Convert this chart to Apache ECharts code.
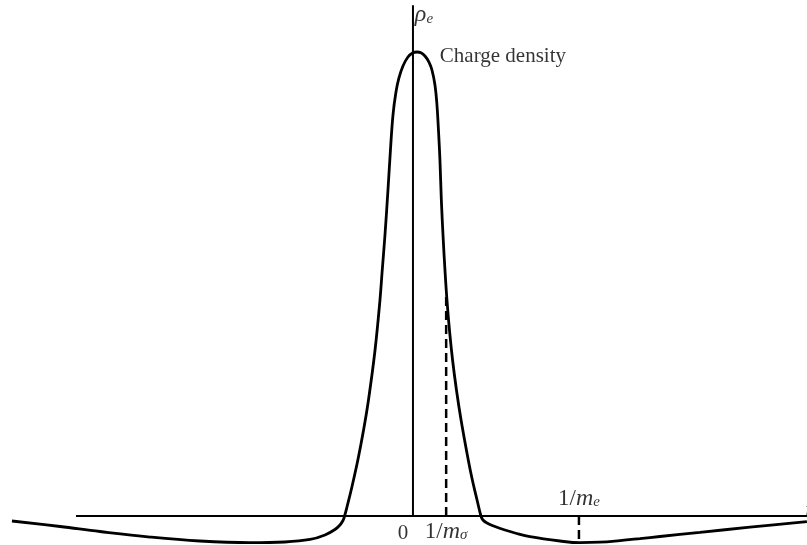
<!DOCTYPE html>
<html><head><meta charset="utf-8">
<script src="https://cdn.jsdelivr.net/npm/echarts@6/dist/echarts.min.js"></script>
<style>html,body{margin:0;padding:0;background:#fff}#chart{width:807px;height:545px}</style>
</head><body><div id="chart"></div>
<script>
// Radial distance r, in units where 1/m_sigma = 1 and 1/m_e = 5
const radius = [
  -12.08, -10.63, -9.43, -7.92, -6.42, -4.91, -3.86, -3.10, -2.65, -2.35, -2.199, -2.108, -2.060,
  -1.973, -1.861, -1.660, -1.488, -1.340, -1.142, -0.994, -0.925, -0.843, -0.753, -0.678,
  -0.602, -0.512, -0.422, -0.301, -0.151, 0, 0.120, 0.241,
  0.361, 0.482, 0.572, 0.663, 0.723, 0.768, 0.813, 0.855, 0.913, 0.964, 1.024,
  1.099, 1.193, 1.310, 1.449, 1.666, 1.789, 1.931, 2.048,
  2.108, 2.229, 2.470, 2.771, 3.072, 3.524, 4.428, 5.030, 5.633, 6.235, 6.837, 7.440,
  8.645, 10.151, 11.867
];
// Charge density rho_e, normalised to its central peak
const density = [
  -0.0108, -0.0226, -0.0334, -0.0453, -0.0539, -0.0575, -0.0560, -0.0506, -0.0409, -0.0291, -0.0194, -0.0097, 0,
  0.0237, 0.0560, 0.1207, 0.1853, 0.2500, 0.3578, 0.4655, 0.5302, 0.6056, 0.7026, 0.7888,
  0.8642, 0.9138, 0.9440, 0.9698, 0.9892, 0.9983, 1.0, 0.9983,
  0.9914, 0.9784, 0.9612, 0.9289, 0.8858, 0.8319, 0.7672, 0.6810, 0.5948, 0.5302, 0.4655,
  0.4009, 0.3362, 0.2716, 0.2069, 0.1207, 0.0776, 0.0345, 0,
  -0.0086, -0.0151, -0.0226, -0.0302, -0.0366, -0.0446, -0.0539, -0.0575, -0.0565, -0.0530, -0.0487, -0.0442,
  -0.0353, -0.0241, -0.0123
];
const rAxisExtent = [-10.15, 11.87];
const rhoAxisExtent = [0, 1.101];
const sigmaRange = 1;        // 1/m_sigma
const sigmaDensity = 0.48;
const electronRange = 5;     // 1/m_e
const electronDensity = -0.0575;

const serif = "'Liberation Serif', 'DejaVu Serif', serif";
const ink = '#000';

const chart = echarts.init(document.getElementById('chart'), null, {renderer: 'canvas'});

function textMark(x, y, fmt, offset, align) {
  return {
    type: 'scatter', symbolSize: 0, silent: true, z: 5,
    data: [[x, y]],
    label: {
      show: true, position: 'inside', offset: offset, align: align || 'center',
      formatter: fmt, color: ink, fontFamily: serif, fontSize: 21,
      rich: {
        n: {fontFamily: serif, fontSize: 21, color: ink, lineHeight: 22},
        f: {fontFamily: serif, fontSize: 23, color: ink, lineHeight: 22},
        i: {fontFamily: serif, fontSize: 24, fontStyle: 'italic', color: ink, lineHeight: 22},
        s: {fontFamily: serif, fontSize: 15, fontStyle: 'italic', color: ink, lineHeight: 13, verticalAlign: 'bottom'}
      }
    }
  };
}

chart.setOption({
  animation: false,
  backgroundColor: '#fff',
  grid: {left: 0, right: 0, top: 5, bottom: 0},
  xAxis: {type: 'value', min: -12.44, max: 11.87, show: false},
  yAxis: {type: 'value', min: -0.0625, max: 1.1013, show: false},
  series: [
    { // horizontal r axis
      type: 'line', symbol: 'none', silent: true,
      data: rAxisExtent.map(r => [r, 0]),
      lineStyle: {color: ink, width: 2}
    },
    { // vertical rho axis
      type: 'line', symbol: 'none', silent: true,
      data: rhoAxisExtent.map(v => [0, v]),
      lineStyle: {color: ink, width: 2}
    },
    { // 1/m_sigma marker
      type: 'line', symbol: 'none', silent: true,
      data: [[sigmaRange, 0], [sigmaRange, sigmaDensity]],
      lineStyle: {color: ink, width: 2.5, type: [9, 5]}
    },
    { // 1/m_e marker
      type: 'line', symbol: 'none', silent: true,
      data: [[electronRange, 0], [electronRange, electronDensity]],
      lineStyle: {color: ink, width: 2.5, type: [9, 5]}
    },
    { // charge density profile
      type: 'line', symbol: 'none', silent: true, smooth: 0.4,
      data: radius.map((r, i) => [r, density[i]]),
      lineStyle: {color: ink, width: 2.8}
    },
    textMark(0, 0, '{n|0}', [-10, 17]),
    textMark(sigmaRange, 0, '{f|1/}{i|m}{s|σ}', [0, 16]),
    textMark(electronRange, 0, '{f|1/}{i|m}{s|e}', [0, -17]),
    textMark(0, rhoAxisExtent[1], '{i|ρ}{s|e}', [11, 10]),
    textMark(rAxisExtent[1], 0, '{i|r}', [-2, -5], 'left'),
    textMark(0.75, 1.0, '{n|Charge density}', [2, 4], 'left')
  ]
});
</script></body></html>
